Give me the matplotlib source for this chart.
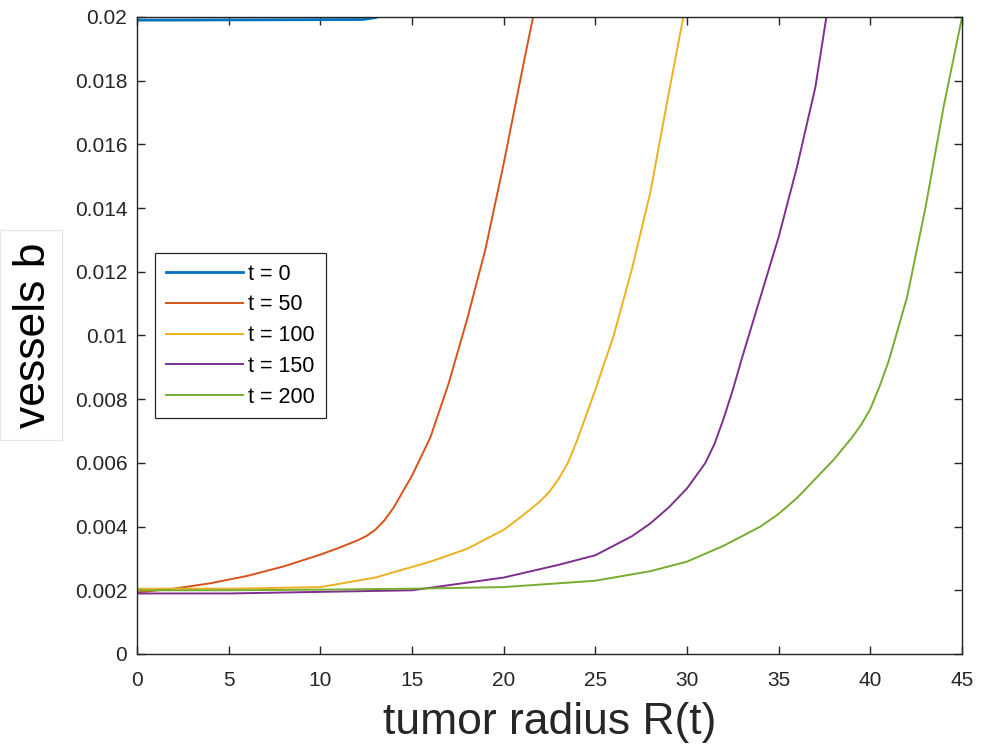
import numpy as np
import matplotlib
matplotlib.use('Agg')
import matplotlib.pyplot as plt
from matplotlib.patches import Rectangle

plt.rcParams['font.family'] = ['Liberation Sans', 'DejaVu Sans']

# vessel density b against tumor radius R(t), one curve per time step
r_t0 = [0, 12.3, 13.0, 13.1]
b_t0 = [0.01990, 0.01992, 0.01998, 0.0200]

r_t50 = [0, 2, 4, 6, 8, 10, 11, 12, 12.5, 13, 13.5, 14, 14.5, 15, 15.5, 16,
         17, 18, 19, 20, 21, 21.6]
b_t50 = [0.00193, 0.00205, 0.00222, 0.00245, 0.00275, 0.00312, 0.00333, 0.00356,
         0.0037, 0.0039, 0.0042, 0.0046, 0.0051, 0.0056, 0.0062, 0.0068,
         0.0085, 0.0105, 0.0127, 0.0154, 0.0183, 0.0200]

r_t100 = [0, 5, 10, 13, 16, 18, 20, 21, 22, 22.5, 23, 23.5, 24, 24.5, 25, 26, 27,
          28, 29, 29.8]
b_t100 = [0.00205, 0.00205, 0.0021, 0.0024, 0.0029, 0.0033, 0.0039, 0.00433, 0.0048,
          0.0051, 0.0055, 0.0060, 0.0067, 0.0075, 0.0083, 0.0100, 0.0121,
          0.0145, 0.0176, 0.0200]

r_t150 = [0, 5, 10, 15, 20, 23, 25, 26, 27, 28, 29, 30, 30.5, 31, 31.5, 32, 32.5,
          33, 34, 35, 36, 37, 37.6]
b_t150 = [0.0019, 0.0019, 0.00195, 0.0020, 0.0024, 0.0028, 0.0031, 0.0034, 0.0037,
          0.0041, 0.0046, 0.0052, 0.0056, 0.0060, 0.0066, 0.0074, 0.0083,
          0.0093, 0.0112, 0.0131, 0.0153, 0.0178, 0.0200]

r_t200 = [0, 5, 10, 15, 20, 25, 28, 30, 32, 34, 35, 36, 37, 38, 39, 39.5, 40, 40.5,
          41, 42, 43, 44, 45]
b_t200 = [0.0020, 0.0020, 0.00202, 0.00205, 0.0021, 0.0023, 0.0026, 0.0029, 0.0034,
          0.0040, 0.0044, 0.0049, 0.0055, 0.0061, 0.0068, 0.0072, 0.0077, 0.0084,
          0.0092, 0.0112, 0.0140, 0.0172, 0.0200]

labels = ['t = 0', 't = 50', 't = 100', 't = 150', 't = 200']
colors = ['#0072BD', '#D95319', '#EDB120', '#7E2F8E', '#77AC30']

xticks = [0, 5, 10, 15, 20, 25, 30, 35, 40, 45]
yticks = [0, 0.002, 0.004, 0.006, 0.008, 0.01, 0.012, 0.014, 0.016, 0.018, 0.02]
ytick_labels = ['0', '0.002', '0.004', '0.006', '0.008', '0.01',
                '0.012', '0.014', '0.016', '0.018', '0.02']

fig = plt.figure(figsize=(9.83, 7.55), dpi=100)
ax = fig.add_axes([0.1394, 0.1338, 0.8393, 0.8437])

series = [(r_t0, b_t0), (r_t50, b_t50), (r_t100, b_t100), (r_t150, b_t150), (r_t200, b_t200)]
for (r, b), lab, c in zip(series, labels, colors):
    ax.plot(r, b, color=c, lw=2.0 if lab == 't = 0' else 1.4, label=lab)

ax.set_xlim(0, 45)
ax.set_ylim(0, 0.02)
ax.set_xticks(xticks)
ax.set_xticklabels([str(v) for v in xticks])
ax.set_yticks(yticks)
ax.set_yticklabels(ytick_labels)

axis_col = '#262626'
for s in ax.spines.values():
    s.set_color(axis_col)
    s.set_linewidth(1.0)
ax.tick_params(direction='in', length=6, width=1.0, color=axis_col,
               labelcolor=axis_col, labelsize=15, top=True, right=True)
ax.tick_params(axis='x', pad=12)
ax.tick_params(axis='y', pad=7)

ax.set_xlabel('tumor radius R(t)', fontsize=32, color=axis_col, va='center')
ax.xaxis.set_label_coords(0.5, -0.107)
ax.set_ylabel('vessels b', fontsize=32, color='black', va='center')
ax.yaxis.set_label_coords(-0.126, 0.5)

# faint box behind the y label
fig.patches.append(Rectangle((0.0, 1 - 440 / 755), 62 / 983, 210 / 755,
                             transform=fig.transFigure, fill=False,
                             edgecolor='#e6e6e6', lw=0.8))

leg = ax.legend(loc='upper left', bbox_to_anchor=(155 / 983, 1 - 253 / 755),
                bbox_transform=fig.transFigure, borderaxespad=0, fontsize=15.5,
                handlelength=3.6, handletextpad=0.23, labelspacing=0.45,
                borderpad=0.5, fancybox=False, framealpha=1)
leg.get_frame().set_edgecolor(axis_col)
leg.get_frame().set_linewidth(0.9)

fig.savefig('out.png', dpi=100)
